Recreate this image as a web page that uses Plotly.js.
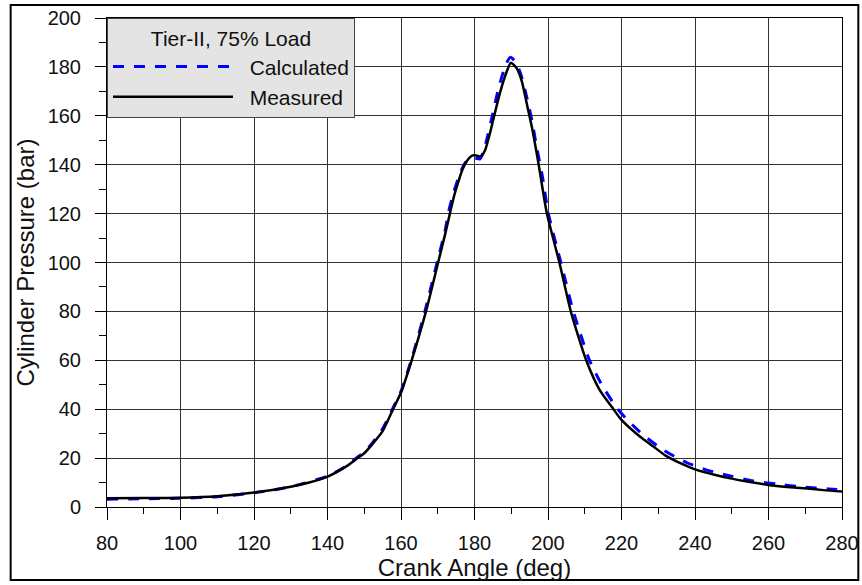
<!DOCTYPE html>
<html>
<head>
<meta charset="utf-8">
<script src="https://cdn.plot.ly/plotly-3.0.1.min.js"></script>
<style>
  html, body { margin: 0; padding: 0; background: #fff; }
  #chart { width: 862px; height: 585px; }
</style>
</head>
<body>
<div id="chart"></div>
<script>
// Measured cylinder pressure
const measuredAngle = [80, 90, 100, 110, 120, 130, 135, 140, 145, 148, 150, 152, 155, 158, 160, 162.9, 166.8, 170.1, 172, 173.3, 174.5, 175.6, 176.6, 177.6, 178.6, 179.5, 180.5, 181.3, 182, 182.9, 184.2, 185.3, 186.9, 188.6, 189.9, 191.5, 192.9, 194.2, 195.6, 197.4, 199.7, 203.1, 206.2, 210.4, 214, 217.8, 220, 225, 228.7, 232, 236, 240, 245, 249.6, 255, 260, 265, 270.5, 275, 280];
const measuredPressure = [3.6, 3.7, 3.8, 4.4, 5.9, 8.3, 10, 12.4, 16.5, 19.8, 22, 25.3, 31, 40.5, 46.8, 60, 80, 100, 111.5, 120, 127.5, 133, 137.5, 140.7, 142.8, 143.8, 143.8, 143.4, 143.8, 146, 152.8, 159.6, 169.2, 177.4, 181.7, 179.4, 174, 165.1, 155.5, 140.6, 120, 100, 80, 60, 48, 40, 35.6, 28.8, 24.7, 21, 17.9, 15.4, 13.3, 11.7, 10.2, 9.0, 8.2, 7.6, 6.9, 6.3];

// Calculated cylinder pressure
const calculatedAngle = [80, 90, 100, 110, 120, 130, 140, 145, 148, 150, 152, 155, 158, 160, 163, 166.5, 170, 172, 173, 174.3, 175.5, 176.5, 177.5, 178.5, 179.5, 180.5, 181.5, 182.5, 183.7, 185, 186.5, 188.3, 189.7, 191.2, 192.6, 194, 195.5, 196.9, 198.5, 200.1, 203.5, 206.9, 211.3, 215, 219, 222, 226, 231.4, 237.8, 243.7, 249.6, 255.9, 262.3, 269.6, 276.4, 280];
const calculatedPressure = [3.2, 3.4, 3.6, 4.2, 5.8, 8.3, 12.6, 16.7, 20.2, 22.5, 25.8, 32, 41, 47.3, 61, 80, 101, 113, 121, 128.5, 134, 138, 140.8, 142.4, 142.9, 142.6, 142.4, 145.5, 152.5, 161, 171, 180, 183.9, 182, 177, 169, 159, 147.4, 135, 120, 100, 80, 60, 49, 40, 35, 29.4, 23.3, 18.1, 14.9, 12.7, 10.6, 9.4, 8.1, 7.4, 7.0];

const xTickVals = [80, 100, 120, 140, 160, 180, 200, 220, 240, 260, 280];
const yTickVals = [0, 20, 40, 60, 80, 100, 120, 140, 160, 180, 200];

const legendTitle = 'Tier-II, 75% Load';
const seriesNames = ['Calculated', 'Measured'];

const FONT = 'Liberation Sans, Arial, sans-serif';
const GAP = '\u00a0\u00a0';

const traces = [
  {
    x: calculatedAngle, y: calculatedPressure, name: GAP + seriesNames[0],
    type: 'scatter', mode: 'lines',
    line: { color: '#0000ff', width: 3, dash: '11px,10px', shape: 'spline', smoothing: 0.6 }
  },
  {
    x: measuredAngle, y: measuredPressure, name: GAP + seriesNames[1],
    type: 'scatter', mode: 'lines',
    line: { color: '#000000', width: 2.5, shape: 'spline', smoothing: 0.6 }
  }
];

const layout = {
  width: 862, height: 585,
  margin: { l: 107, r: 20, t: 18, b: 78 },
  paper_bgcolor: '#ffffff', plot_bgcolor: '#ffffff',
  font: { family: FONT, size: 20, color: '#111' },
  showlegend: true,
  xaxis: {
    range: [80, 280], tickvals: xTickVals, ticktext: xTickVals.map(String),
    ticks: 'outside', ticklen: 12, tickcolor: '#000', tickwidth: 1,
    showgrid: true, gridcolor: '#333', gridwidth: 1,
    showline: true, linecolor: '#000', linewidth: 1, mirror: true,
    zeroline: false,
    minor: { dtick: 10, tick0: 80, ticks: 'outside', ticklen: 6, tickcolor: '#000', showgrid: false },
    tickfont: { family: FONT, size: 20, color: '#111' },
    ticklabelstandoff: 6,
    title: { text: 'Crank Angle (deg)', font: { family: FONT, size: 24, color: '#111' }, standoff: 4 }
  },
  yaxis: {
    range: [0, 200], tickvals: yTickVals, ticktext: yTickVals.map(String),
    ticks: 'outside', ticklen: 11, tickcolor: '#000', tickwidth: 1,
    showgrid: true, gridcolor: '#333', gridwidth: 1,
    showline: true, linecolor: '#000', linewidth: 1, mirror: true,
    zeroline: false,
    minor: { dtick: 10, tick0: 0, ticks: 'outside', ticklen: 7, tickcolor: '#000', showgrid: false },
    tickfont: { family: FONT, size: 20, color: '#111' },
    ticklabelstandoff: 10,
    title: { text: 'Cylinder Pressure (bar)', font: { family: FONT, size: 24, color: '#111' }, standoff: 6 }
  },
  legend: {
    x: 0, y: 1, xanchor: 'left', yanchor: 'top',
    bgcolor: '#e4e4e4', bordercolor: '#444', borderwidth: 1,
    font: { family: FONT, size: 21, color: '#111' },
    itemwidth: 120,
    title: { text: legendTitle, side: 'top center', font: { family: FONT, size: 21, color: '#111' } }
  },
  shapes: [
    {
      type: 'rect', xref: 'paper', yref: 'paper',
      x0: -0.1311, x1: 1.0222, y0: -0.1493, y1: 1.0266,
      line: { color: '#000', width: 2 }, fillcolor: 'rgba(0,0,0,0)', layer: 'above'
    }
  ]
};

Plotly.newPlot('chart', traces, layout, { displayModeBar: false, staticPlot: true });
</script>
</body>
</html>
